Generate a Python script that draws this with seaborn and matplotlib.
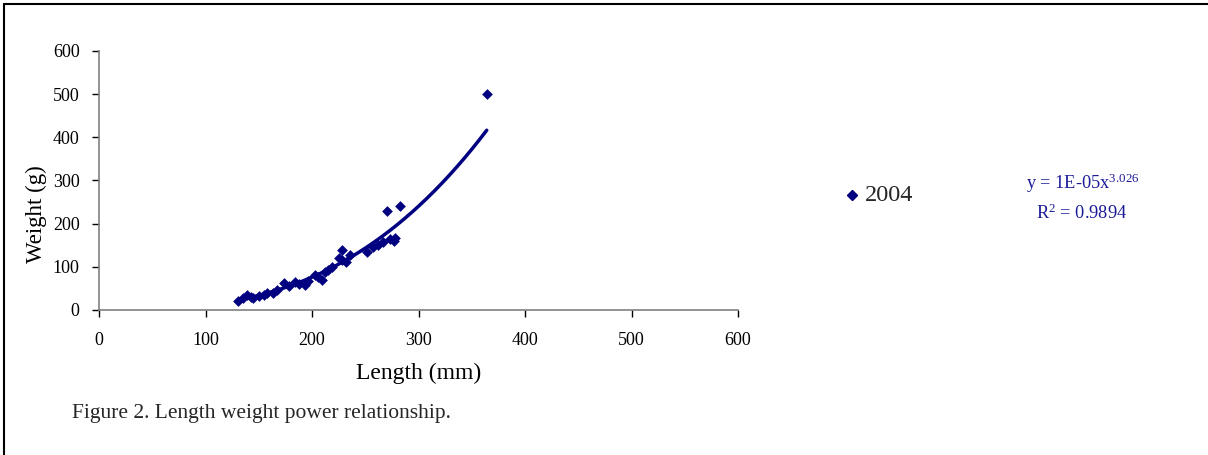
import numpy as np
import pandas as pd
import seaborn as sns
import matplotlib
matplotlib.use("Agg")
import matplotlib.pyplot as plt
from matplotlib.lines import Line2D

# length (mm) and weight (g) of the 2004 sample
lengths = [130, 135, 139, 143, 145, 150, 155, 158, 163, 167, 174, 178, 184,
           188, 193, 196, 203, 206, 209, 212, 215, 219, 225, 228, 228, 232,
           236, 252, 257, 262, 267, 270, 273, 277, 278, 283, 364]
weights = [20, 28, 35, 30, 28, 32, 35, 39, 40, 45, 62, 55, 65,
           60, 58, 66, 80, 75, 70, 88, 92, 100, 120, 116, 139, 112,
           127, 134, 146, 150, 158, 229, 165, 160, 167, 241, 500]
series_name = "2004"
x_ticks = [0, 100, 200, 300, 400, 500, 600]
y_ticks = [0, 100, 200, 300, 400, 500, 600]
equation = "y = 1E-05x$^{3.026}$"
r_squared = "R$^{2}$ = 0.9894"

navy = "#000080"

sns.set_theme(style="white")
plt.rcParams["font.family"] = ["Liberation Serif", "DejaVu Serif"]
plt.rcParams["mathtext.fontset"] = "custom"
plt.rcParams["mathtext.rm"] = "Liberation Serif"
plt.rcParams["mathtext.it"] = "Liberation Serif"

df = pd.DataFrame({"Length": lengths, "Weight": weights})

# power trend line fitted in log space
b, log_a = np.polyfit(np.log(df["Length"]), np.log(df["Weight"]), 1)
xs = np.linspace(df["Length"].min(), df["Length"].max(), 200)
trend = pd.DataFrame({"Length": xs, "Weight": np.exp(log_a) * xs ** b})

fig = plt.figure(figsize=(12.08, 4.55), dpi=100)
ax = fig.add_axes([0.082, 0.319, 0.529, 0.569])

sns.lineplot(data=trend, x="Length", y="Weight", color=navy, lw=2.5, ax=ax)
sns.scatterplot(data=df, x="Length", y="Weight", marker="D", s=30,
                color=navy, edgecolor=navy, linewidth=0, ax=ax, zorder=3)

ax.set_xlim(0, 600)
ax.set_ylim(0, 600)
ax.set_xticks(x_ticks)
ax.set_yticks(y_ticks)
ax.tick_params(axis="both", direction="out", length=5, width=1, color="black",
               labelsize=13, labelcolor="black", bottom=True, left=True)
ax.tick_params(axis="x", pad=11)
ax.tick_params(axis="y", pad=9)
for side in ["top", "right"]:
    ax.spines[side].set_visible(False)
for side in ["left", "bottom"]:
    ax.spines[side].set_color("#808080")
    ax.spines[side].set_linewidth(1.2)
ax.set_xlabel("Length (mm)", fontsize=17, color="black")
ax.set_ylabel("Weight (g)", fontsize=16.5, color="black")
ax.xaxis.set_label_coords(0.5, -0.205)
ax.yaxis.set_label_coords(-0.082, 0.37)

# legend entry
fig.add_artist(Line2D([0.7055], [0.571], marker="D", markersize=5, color=navy,
                      transform=fig.transFigure))
fig.text(0.716, 0.571, series_name, fontsize=17.5, va="center", ha="left")

# trend line equation
fig.text(0.896, 0.598, equation, fontsize=13.2, color="#1a1a99", ha="center", va="center")
fig.text(0.895, 0.532, r_squared, fontsize=13.2, color="#1a1a99", ha="center", va="center")

fig.text(0.060, 0.092, "Figure 2. Length weight power relationship.", fontsize=15.5,
         ha="left", va="center")

# frame around the figure (top and left edges visible)
fig.add_artist(Line2D([0.003, 1.0], [0.991, 0.991], color="black", lw=1.5,
                      transform=fig.transFigure))
fig.add_artist(Line2D([0.0035, 0.0035], [0.0, 0.991], color="black", lw=1.5,
                      transform=fig.transFigure))

fig.savefig("out.png", dpi=100)
